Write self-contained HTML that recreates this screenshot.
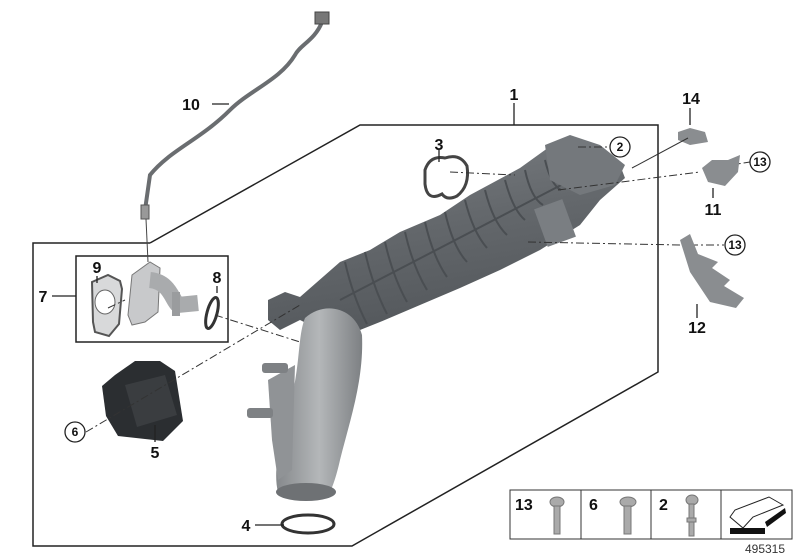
<!DOCTYPE html>
<html><head><style>
body{margin:0;background:#fff;}
svg{display:block;font-family:"Liberation Sans",sans-serif;font-weight:bold;}
</style></head><body>
<svg width="800" height="560" viewBox="0 0 800 560" xmlns="http://www.w3.org/2000/svg">
<defs>
<linearGradient id="g1" x1="0" y1="0" x2="0.3" y2="1"><stop offset="0" stop-color="#7c8084"/><stop offset="0.5" stop-color="#64686c"/><stop offset="1" stop-color="#53575b"/></linearGradient>
<linearGradient id="g2" x1="0" y1="0" x2="1" y2="0"><stop offset="0" stop-color="#85888b"/><stop offset="0.5" stop-color="#b4b7b9"/><stop offset="1" stop-color="#7d8083"/></linearGradient>
</defs>
<!-- frame -->
<polyline points="150,243 33,243 33,546 352,546 658,372 658,125 360,125 150,243" fill="none" stroke="#222" stroke-width="1.5"/>
<rect x="76" y="256" width="152" height="86" fill="none" stroke="#222" stroke-width="1.5"/>
<!-- sensor cable 10 -->
<path d="M322,22 C315,40 300,45 295,55 C280,80 250,90 230,110 C200,140 170,150 150,175 L145,210" fill="none" stroke="#6a6d70" stroke-width="4"/>
<rect x="315" y="12" width="14" height="12" fill="#777" stroke="#444"/>
<rect x="141" y="205" width="8" height="14" fill="#999" stroke="#555"/>
<line x1="146" y1="219" x2="148" y2="262" stroke="#444" stroke-width="1"/>
<!-- manifold body -->
<polygon points="268,300 285,292 300,297 340,262 370,250 400,232 440,215 470,195 520,168 545,150 560,140 585,142 600,160 620,165 625,178 600,200 580,225 540,250 500,270 460,288 420,305 380,322 360,330 340,340 300,320 280,330 268,320" fill="url(#g1)"/>
<g stroke="#4a4e52" stroke-width="2" fill="none">
<path d="M345,262 q8,35 22,62"/><path d="M365,252 q8,35 22,62"/><path d="M385,242 q8,35 22,60"/><path d="M405,232 q8,35 22,58"/><path d="M425,222 q8,35 22,55"/><path d="M445,212 q8,35 22,50"/><path d="M465,200 q8,32 22,48"/><path d="M485,190 q8,32 22,45"/><path d="M505,180 q8,30 20,40"/><path d="M525,170 q6,28 18,35"/><path d="M545,160 q6,25 16,30"/>
<path d="M340,300 L590,170"/>
</g>
<polygon points="545,145 570,135 600,145 625,165 615,185 580,195 550,180" fill="#74787c"/>
<rect x="540" y="203" width="30" height="40" fill="#7a7e82" transform="rotate(-20 555 223)"/>
<!-- elbow tube -->
<path d="M305,318 C325,300 355,308 362,335 C364,380 350,420 340,460 C336,478 332,488 330,492 L278,492 C272,470 282,430 292,395 C300,365 298,335 305,318 Z" fill="url(#g2)"/>
<polygon points="268,380 295,365 292,470 278,480 272,440" fill="#909396"/>
<rect x="262" y="363" width="26" height="10" rx="3" fill="#7e8184"/>
<rect x="247" y="408" width="26" height="10" rx="3" fill="#7e8184"/>
<ellipse cx="306" cy="492" rx="30" ry="9" fill="#6e7174"/>
<!-- 3 gasket -->
<path d="M425,170 q5,-15 20,-12 q15,-5 22,8 q3,20 -10,30 q-10,5 -15,-2 q-15,8 -17,-10 z" fill="none" stroke="#444" stroke-width="3"/>
<!-- 4 ring -->
<ellipse cx="308" cy="524" rx="26" ry="9" fill="none" stroke="#333" stroke-width="3"/>
<!-- 9 gasket -->
<path d="M92,282 l16,-7 l12,6 l2,8 l-3,35 l-10,12 l-14,-4 l-2,-10 z" fill="#d8d9da" stroke="#555" stroke-width="2"/>
<ellipse cx="105" cy="302" rx="10" ry="12" fill="#fff" stroke="#666"/>
<!-- 7 valve flange -->
<polygon points="132,275 150,262 160,268 158,312 145,322 132,325 128,315" fill="#c8c9cb" stroke="#777"/>
<path d="M150,280 C170,282 172,300 178,305 L198,303" stroke="#a9abad" stroke-width="16" fill="none"/>
<rect x="172" y="292" width="8" height="24" fill="#9a9c9e"/>
<ellipse cx="212" cy="313" rx="5" ry="16" fill="none" stroke="#333" stroke-width="3" transform="rotate(15 212 313)"/>
<!-- 5 actuator -->
<path d="M115,375 l20,-14 l25,0 l15,10 l8,50 l-20,20 l-45,-5 l-12,-20 l-4,-30 z" fill="#2b2e31"/>
<path d="M125,385 l40,-10 l12,40 l-40,12 z" fill="#3a3d40"/>
<!-- dashed lines -->
<g stroke="#333" stroke-width="1" stroke-dasharray="8,3,2,3" fill="none">
<line x1="86" y1="432" x2="300" y2="305"/>
<line x1="215" y1="315" x2="300" y2="342"/>
<line x1="108" y1="308" x2="125" y2="300"/>
<line x1="450" y1="172" x2="515" y2="175"/>
<line x1="578" y1="147" x2="611" y2="147"/>
<line x1="558" y1="190" x2="700" y2="172"/>
<line x1="528" y1="242" x2="680" y2="245"/>
<line x1="712" y1="168" x2="750" y2="162"/>
<line x1="690" y1="245" x2="724" y2="245"/>
</g>
<polygon points="678,132 690,128 705,132 708,142 690,145 678,140" fill="#8a8d90"/>
<line x1="688" y1="138" x2="632" y2="168" stroke="#333"/>
<polygon points="702,168 712,160 728,160 740,155 738,172 725,186 708,182" fill="#8a8d90"/>
<path d="M680,240 l10,-6 l8,20 l20,8 l-6,6 l18,12 l-6,6 l20,12 l-8,10 l-26,-6 l-20,-30 z" fill="#8a8d90"/>
<!-- leader lines -->
<g stroke="#222" stroke-width="1.3">
<line x1="514" y1="103" x2="514" y2="125"/>
<line x1="439" y1="150" x2="439" y2="162"/>
<line x1="212" y1="104" x2="229" y2="104"/>
<line x1="52" y1="296" x2="76" y2="296"/>
<line x1="97" y1="276" x2="97" y2="283"/>
<line x1="217" y1="286" x2="217" y2="293"/>
<line x1="155" y1="425" x2="155" y2="442"/>
<line x1="255" y1="525" x2="284" y2="525"/>
<line x1="690" y1="108" x2="690" y2="125"/>
<line x1="713" y1="188" x2="713" y2="198"/>
<line x1="697" y1="304" x2="697" y2="318"/>
</g>
<g fill="#fff" stroke="#222" stroke-width="1.3">
<circle cx="620" cy="147" r="10"/><circle cx="760" cy="162" r="10"/><circle cx="735" cy="245" r="10"/><circle cx="75" cy="432" r="10"/>
</g>
<g font-size="12" text-anchor="middle" fill="#111">
<text x="620" y="151">2</text><text x="760" y="166">13</text><text x="735" y="249">13</text><text x="75" y="436">6</text>
</g>
<g font-size="16" text-anchor="middle" fill="#111">
<text x="514" y="100">1</text><text x="439" y="150">3</text><text x="191" y="110">10</text>
<text x="43" y="302">7</text><text x="97" y="273">9</text><text x="217" y="283">8</text>
<text x="155" y="458">5</text><text x="246" y="531">4</text><text x="691" y="104">14</text>
<text x="713" y="215">11</text><text x="697" y="333">12</text>
</g>
<!-- bottom legend -->
<rect x="510" y="490" width="282" height="49" fill="#fff" stroke="#333" stroke-width="1"/>
<line x1="581" y1="490" x2="581" y2="539" stroke="#333"/>
<line x1="651" y1="490" x2="651" y2="539" stroke="#333"/>
<line x1="721" y1="490" x2="721" y2="539" stroke="#333"/>
<g font-size="16" fill="#111"><text x="515" y="510">13</text><text x="589" y="510">6</text><text x="659" y="510">2</text></g>
<g fill="#aaa" stroke="#777" stroke-width="1">
<ellipse cx="557" cy="502" rx="7" ry="5"/><rect x="554" y="506" width="6" height="28"/>
<ellipse cx="628" cy="502" rx="8" ry="5"/><rect x="624" y="506" width="7" height="28"/>
<ellipse cx="692" cy="500" rx="6" ry="5"/><rect x="689" y="504" width="5" height="32"/><rect x="687" y="518" width="9" height="4"/>
</g>
<polygon points="730,517 735,510 769,497 783,505 753,517 743,528" fill="#fff" stroke="#222"/>
<polygon points="730,528 765,528 765,534 730,534" fill="#111"/>
<polygon points="765,522 785,508 786,513 767,527" fill="#111"/>
<text x="765" y="553" font-size="12" font-weight="normal" fill="#333" text-anchor="middle">495315</text>
</svg>
</body></html>
